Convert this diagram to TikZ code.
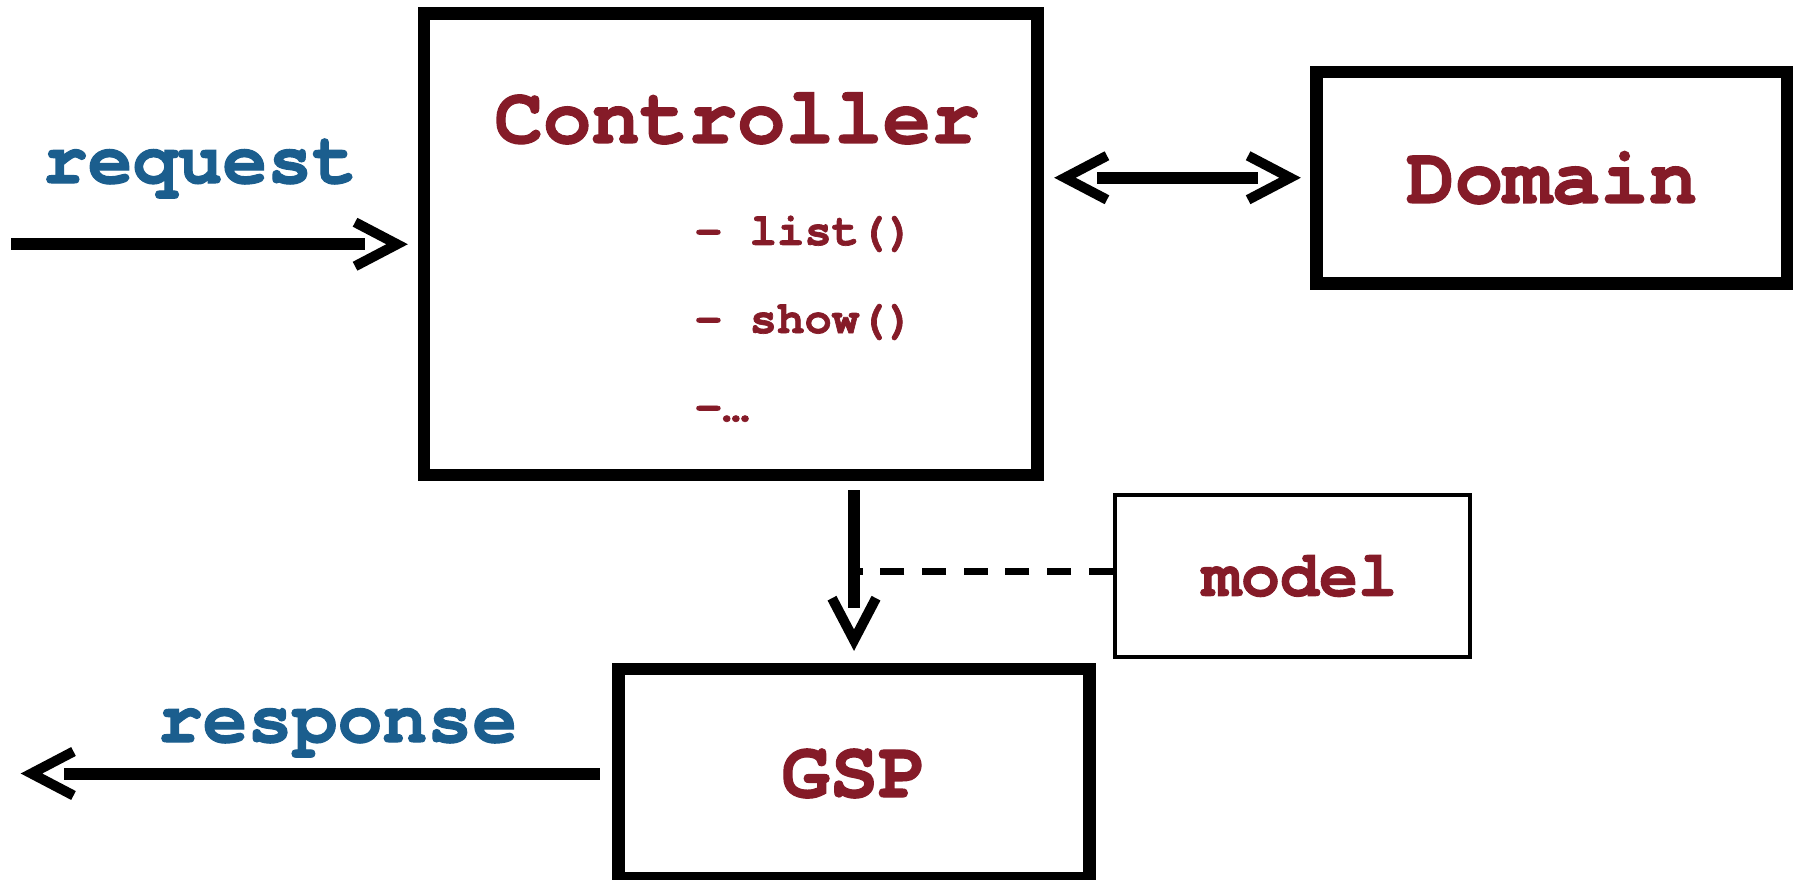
\documentclass[tikz,border=0pt]{standalone}
\usepackage{fontspec}
\newfontfamily\codefont{TeX Gyre Cursor}[BoldFeatures={FakeBold=1.5}]
\definecolor{codered}{RGB}{133,27,40}
\definecolor{codeblue}{RGB}{27,94,142}
\tikzset{
   box/.style={draw, line width=1.25mm, inner sep=0pt},
   thinbox/.style={draw, line width=0.4mm, inner sep=0pt},
   title/.style={font=\codefont\bfseries\fontsize{23}{28}\selectfont, text=codered},
   modeltext/.style={font=\codefont\bfseries\fontsize{18.5}{22}\selectfont, text=codered},
   method/.style={font=\codefont\bfseries\fontsize{13}{16}\selectfont, text=codered, anchor=base west, inner sep=0pt},
   flow/.style={font=\codefont\bfseries\fontsize{21.3}{26}\selectfont, text=codeblue, inner sep=0pt},
   conn/.style={line width=1.2mm},
   barb/.style={line width=1mm},
   dashline/.style={line width=0.7mm, dash pattern=on 2.4mm off 1.77mm},
   vhead/.pic={\draw[barb] (-42,-22) -- (0,0) -- (-42,22);}
}
\begin{document}
\begin{tikzpicture}[x=0.01cm,y=-0.01cm]
   \useasboundingbox (0,0) rectangle (1795,879);
   \node[box, minimum width=6.135cm, minimum height=4.615cm] (ctrl) at (730.75,244.25) {};
   \node[title, anchor=base] (ctrltitle) at (737,143) {Controller};
   \node[method] (list) at (694,245) {- list()};
   \node[method] (show) at (694,333) {- show()};
   \node[method] (more) at (694,421) {-…};
   \node[box, title, minimum width=4.705cm, minimum height=2.115cm] (dom) at (1551.75,177.75) {Domain};
   \node[box, title, minimum width=4.71cm, minimum height=2.09cm] (gsp) at (854,773.5) {GSP};
   \node[thinbox, modeltext, minimum width=3.55cm, minimum height=1.62cm, inner sep=0pt] (model) at (1292.5,576) {\hspace*{1.4mm}model};
   \node[flow, anchor=base] (reqlabel) at (200,183) {request};
   \node[flow, anchor=base] (resplabel) at (337.5,742) {response};

   \coordinate (in) at (11,244.25);
   \coordinate (intip) at ([xshift=-2.05mm]ctrl.west);
   \draw[conn, shorten >=3.2mm] (in) -- (intip);
   \pic at (intip) {vhead};

   \coordinate (domtipl) at ([xshift=2.1mm]ctrl.east |- dom.west);
   \coordinate (domtipr) at ([xshift=-2mm]dom.west);
   \draw[conn, shorten <=3.25mm, shorten >=3.25mm] (domtipl) -- (domtipr);
   \pic[rotate=180] at (domtipl) {vhead};
   \pic at (domtipr) {vhead};

   \coordinate (mtop) at ([yshift=-0.9mm]ctrl.south -| gsp.north);
   \coordinate (mtip) at ([yshift=2.25mm]gsp.north);
   \draw[dashline] ([yshift=0.5mm]model.west) -- ([yshift=0.5mm]model.west -| mtop);
   \draw[conn, shorten >=3.25mm] (mtop) -- (mtip);
   \pic[rotate=-90] at (mtip) {vhead};

   \coordinate (out) at (31.5,773.5);
   \draw[conn, shorten >=3.25mm] ([xshift=-1.25mm]gsp.west) -- (out);
   \pic[rotate=180] at (out) {vhead};
\end{tikzpicture}
\end{document}
